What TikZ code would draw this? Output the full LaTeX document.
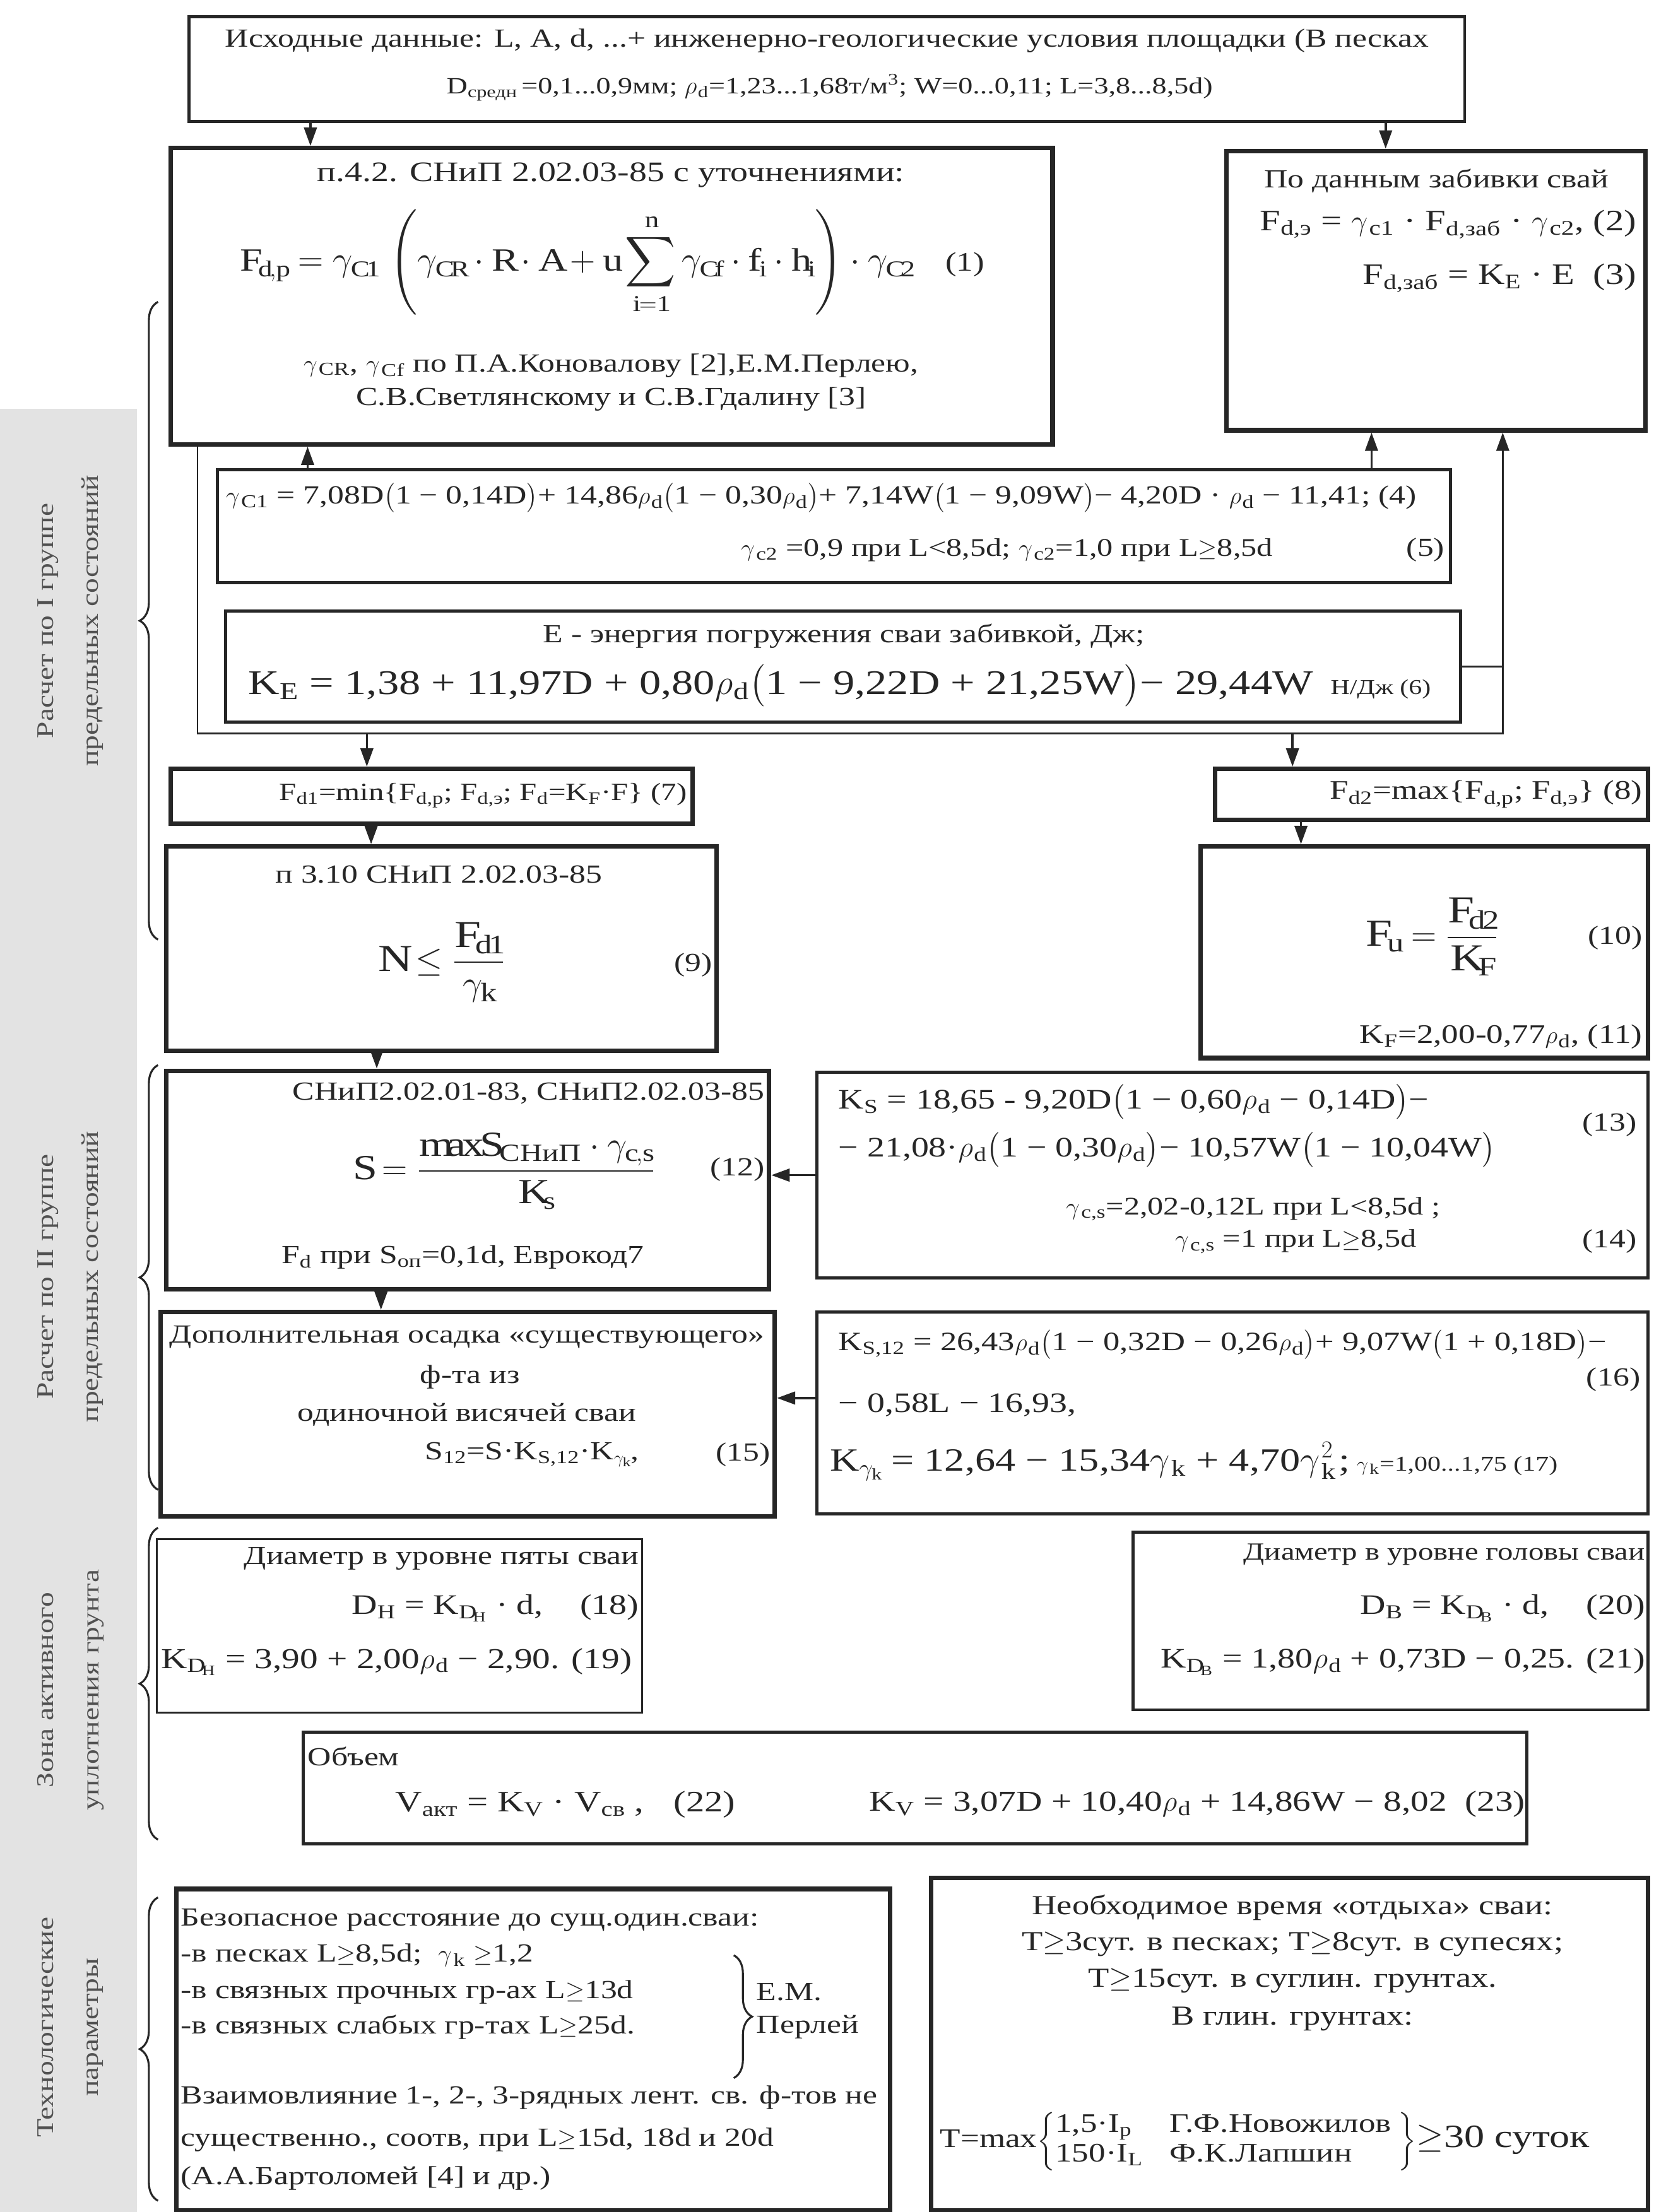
\documentclass[tikz,border=0pt]{standalone}
\usepackage{amsmath}
\usepackage{fontspec}
\setmainfont[FakeStretch=1.25]{Liberation Serif}
\usetikzlibrary{positioning, calc, arrows.meta, decorations.pathreplacing}
\definecolor{ink}{HTML}{262626}
\definecolor{strip}{HTML}{E3E3E3}
\newcommand{\subtx}[1]{\textsubscript{#1}}
\newcommand{\gm}{\ensuremath{\gamma}\kern1pt}
\newcommand{\rd}{\ensuremath{\rho}\kern0.6pt}
\newcommand{\lpar}{\ensuremath{\bigl(}}
\newcommand{\rpar}{\ensuremath{\bigr)}}
\newcommand{\gte}{\ensuremath{\geq}}
\newcommand{\fsz}[1]{\fontsize{#1}{#1}\selectfont}

\begin{document}
\begin{tikzpicture}[x=1pt, y=-1pt,
    heavybox/.style={draw=ink, line width=3.2pt, inner sep=0pt},
    midbox/.style={draw=ink, line width=2.2pt, inner sep=0pt},
    lightbox/.style={draw=ink, line width=1.3pt, inner sep=0pt},
    txt/.style={inner sep=0pt, text=ink, font=\fontsize{18.5}{22}\selectfont},
    small/.style={inner sep=0pt, text=ink, font=\fontsize{17}{20}\selectfont},
    eqn/.style={inner sep=0pt, text=ink, font=\fontsize{20}{24}\selectfont},
    bigeqn/.style={inner sep=0pt, text=ink, font=\fontsize{23}{27}\selectfont},
    feed/.style={draw=ink, line width=1.6pt, -{Triangle[length=13pt, width=9pt]}},
    grpbrace/.style={draw=ink, line width=1.4pt, decorate, decoration={brace, amplitude=13pt}},
    sidelabel/.style={rotate=90, align=center, inner sep=0pt, text=ink!80, font=\fontsize{17}{32}\selectfont}]

\useasboundingbox (0,0) rectangle (1172,1568);
\fill[strip] (0,290) rectangle (97,1568);

% input data
\node[midbox, minimum width=904, minimum height=74] (src) at (586,49) {};
\node[txt] (srcA) at (586,29) {Исходные данные: L, A, d, ...+ инженерно-геологические условия площадки (В песках};
\node[inner sep=0pt, text=ink, font=\fsz{16.5}] (srcB) at (588,62) {D\subtx{средн}\,=0,1...0,9мм; \rd\subtx{d}=1,23...1,68т/м\textsuperscript{3}; W=0...0,11; L=3,8...8,5d)};

% static calculation (1)
\node[heavybox, minimum width=625, minimum height=210] (fdp) at (433.5,210) {};
\node[inner sep=0pt, text=ink, font=\fsz{20}] (fdpT) at (433,124) {п.4.2. СНиП 2.02.03-85 с уточнениями:};
\node[bigeqn, anchor=west] (fdpF) at (170,186) {$\displaystyle \mathrm{F}_{\mathrm{d,p}} = \gamma_{\mathrm{C1}}\,\left(\gamma_{\mathrm{CR}}\cdot\mathrm{R}\cdot\mathrm{A}+\mathrm{u}\sum_{\mathrm{i=1}}^{\mathrm{n}}\gamma_{\mathrm{Cf}}\cdot\mathrm{f}_{\mathrm{i}}\cdot\mathrm{h}_{\mathrm{i}}\right)\cdot\gamma_{\mathrm{C2}}$\quad{\fsz{19}(1)}};
\node[txt] (fdpN1) at (433,259) {\gm\subtx{CR}, \gm\subtx{Cf} по П.А.Коновалову [2],Е.М.Перлею,};
\node[txt] (fdpN2) at (433,283) {С.В.Светлянскому и С.В.Гдалину [3]};

% driving data (2),(3)
\node[heavybox, minimum width=297, minimum height=198] (fde) at (1017.5,206) {};
\node[txt] (fdeT) at (1018,128) {По данным забивки свай};
\node[inner sep=0pt, text=ink, font=\fsz{21}, anchor=east] (fdeA) at (1160,159) {F\subtx{d,э} = \gm\subtx{c1} · F\subtx{d,заб} · \gm\subtx{c2}, (2)};
\node[inner sep=0pt, text=ink, font=\fsz{21}, anchor=east] (fdeB) at (1160,197) {F\subtx{d,заб} = K\subtx{E} · E \ (3)};

% coefficients (4),(5)
\node[midbox, minimum width=874, minimum height=80] (gc) at (591,373) {};
\node[anchor=west, inner sep=0pt, text=ink, font=\fsz{18.5}] (gcA) at (160,353) {\gm\subtx{C1} = 7,08D\lpar1 − 0,14D\rpar + 14,86\rd\subtx{d}\lpar1 − 0,30\rd\subtx{d}\rpar + 7,14W\lpar1 − 9,09W\rpar − 4,20D · \rd\subtx{d} − 11,41; (4)};
\node[inner sep=0pt, text=ink, font=\fsz{18}, anchor=west] (gcB) at (525,390) {\gm\subtx{c2} =0,9 при L<8,5d; \gm\subtx{c2}=1,0 при L\gte8,5d};
\node[txt, anchor=east] (gcN) at (1024,390) {(5)};

% energy coefficient (6)
\node[midbox, minimum width=875, minimum height=79] (ke) at (597.5,472.5) {};
\node[txt] (keT) at (598,451) {E - энергия погружения сваи забивкой, Дж;};
\node[anchor=west, inner sep=0pt, text=ink, font=\fsz{24.5}] (keF) at (176,486) {K\subtx{E} = 1,38 + 11,97D + 0,80\rd\subtx{d}\lpar1 − 9,22D + 21,25W\rpar − 29,44W {\fsz{15} Н/Дж (6)}};

% frame round (4)-(6)
\draw[ink, line width=1.3pt] (140,315) -- (140,520) -- (1065,520) -- (1065,472);
\coordinate (grpbl) at (140,520);

% design loads (7),(8)
\node[heavybox, minimum width=370, minimum height=39] (fd1) at (306,564.5) {};
\node[inner sep=0pt, text=ink, font=\fsz{17.5}, anchor=east] (fd1T) at (487,564) {F\subtx{d1}=min\{F\subtx{d,p}; F\subtx{d,э}; F\subtx{d}=K\subtx{F}·F\} (7)};
\node[heavybox, minimum width=307, minimum height=36] (fd2) at (1014.5,563) {};
\node[inner sep=0pt, text=ink, font=\fsz{19}, anchor=east] (fd2T) at (1164,563) {F\subtx{d2}=max\{F\subtx{d,p}; F\subtx{d,э}\} (8)};

% check (9)
\node[heavybox, minimum width=390, minimum height=145] (nn) at (313,672.5) {};
\node[txt] (nnT) at (311,620) {п 3.10 СНиП 2.02.03-85};
\node[inner sep=0pt, text=ink, font=\fsz{27}, anchor=west] (nnF) at (268,682) {$\mathrm{N}\leq\dfrac{\mathrm{F}_{\mathrm{d1}}}{\gamma_{\mathrm{k}}}$};
\node[txt, anchor=east] (nnN) at (505,684) {(9)};

% ultimate load (10),(11)
\node[heavybox, minimum width=317, minimum height=150] (fu) at (1009.5,675) {};
\node[inner sep=0pt, text=ink, font=\fsz{27}, anchor=west] (fuF) at (968,664) {$\mathrm{F}_{\mathrm{u}}=\dfrac{\mathrm{F}_{\mathrm{d2}}}{\mathrm{K}_{\mathrm{F}}}$};
\node[txt, anchor=east] (fuN) at (1164,665) {(10)};
\node[inner sep=0pt, text=ink, font=\fsz{19}, anchor=east] (fuK) at (1164,735) {K\subtx{F}=2,00-0,77\rd\subtx{d}, (11)};

% settlement (12)
\node[heavybox, minimum width=427, minimum height=155] (ss) at (331.5,836.5) {};
\node[txt, anchor=east] (ssT) at (542,775) {СНиП2.02.01-83, СНиП2.02.03-85};
\node[inner sep=0pt, text=ink, font=\fsz{25}, anchor=west] (ssF) at (250,830) {$\mathrm{S}=\dfrac{\mathrm{maxS}_{\text{СНиП}}\cdot\gamma_{\mathrm{c,s}}}{\mathrm{K}_{\mathrm{s}}}$};
\node[txt, anchor=east] (ssN) at (542,829) {(12)};
\node[txt] (ssE) at (328,891) {F\subtx{d} при S\subtx{оп}=0,1d, Еврокод7};

% settlement coefficient (13),(14)
\node[midbox, minimum width=589, minimum height=146] (ks) at (873.5,833) {};
\node[eqn, anchor=west] (ksA) at (594,781) {K\subtx{S} = 18,65 - 9,20D\lpar1 − 0,60\rd\subtx{d} − 0,14D\rpar −};
\node[eqn, anchor=west] (ksB) at (594,815) {− 21,08·\rd\subtx{d}\lpar1 − 0,30\rd\subtx{d}\rpar − 10,57W\lpar1 − 10,04W\rpar};
\node[txt, anchor=east] (ksN) at (1160,797) {(13)};
\node[inner sep=0pt, text=ink, font=\fsz{18}, anchor=east] (ksC) at (1021,857) {\gm\subtx{c,s}=2,02-0,12L при L<8,5d ;};
\node[inner sep=0pt, text=ink, font=\fsz{18}, anchor=east] (ksD) at (1004,880) {\gm\subtx{c,s} =1 при L\gte8,5d};
\node[txt, anchor=east] (ksM) at (1160,880) {(14)};

% additional settlement (15)
\node[heavybox, minimum width=435, minimum height=145] (s12) at (331.5,1002.5) {};
\node[txt] (s12A) at (331,948) {Дополнительная осадка «существующего»};
\node[txt] (s12B) at (333,976) {ф-та из};
\node[txt] (s12C) at (331,1003) {одиночной висячей сваи};
\node[txt, anchor=west] (s12D) at (301,1031) {S\subtx{12}=S·K\subtx{S,12}·K$_{\gamma_\mathrm{k}}$,};
\node[txt, anchor=east] (s12N) at (546,1031) {(15)};

% coefficients (16),(17)
\node[midbox, minimum width=589, minimum height=143] (ksd) at (873.5,1001.5) {};
\node[inner sep=0pt, text=ink, font=\fsz{18.8}, anchor=west] (ksdA) at (594,953) {K\subtx{S,12} = 26,43\rd\subtx{d}\lpar1 − 0,32D − 0,26\rd\subtx{d}\rpar + 9,07W\lpar1 + 0,18D\rpar −};
\node[txt, anchor=east] (ksdN) at (1163,978) {(16)};
\node[eqn, anchor=west] (ksdB) at (594,996) {− 0,58L − 16,93,};
\node[bigeqn, anchor=west] (ksdC) at (588,1036) {K$_{\gamma_\mathrm{k}}$ = 12,64 − 15,34\gm\subtx{k} + 4,70\gm$_\mathrm{k}^2$\,;{\fsz{15}\ \gm\subtx{k}=1,00...1,75 (17)}};

% compaction zone (18)-(23)
\node[lightbox, minimum width=344, minimum height=123] (dh) at (283,1152.5) {};
\node[txt, anchor=east] (dhT) at (453,1105) {Диаметр в уровне пяты сваи};
\node[eqn, anchor=east] (dhA) at (453,1140) {D\subtx{Н} = K$_{\mathrm{D}_\text{Н}}$ · d, \quad(18)};
\node[inner sep=0pt, text=ink, font=\fsz{20.5}, anchor=west] (dhB) at (114,1178) {K$_{\mathrm{D}_\text{Н}}$ = 3,90 + 2,00\rd\subtx{d} − 2,90. (19)};
\node[midbox, minimum width=365, minimum height=126] (db) at (985.5,1149) {};
\node[inner sep=0pt, text=ink, font=\fsz{17.5}, anchor=east] (dbT) at (1166,1102) {Диаметр в уровне головы сваи};
\node[eqn, anchor=east] (dbA) at (1166,1140) {D\subtx{В} = K$_{\mathrm{D}_\text{В}}$ · d, \quad(20)};
\node[eqn, anchor=east] (dbB) at (1166,1178) {K$_{\mathrm{D}_\text{В}}$ = 1,80\rd\subtx{d} + 0,73D − 0,25. (21)};
\node[midbox, minimum width=867, minimum height=79] (va) at (648.5,1267.5) {};
\node[txt, anchor=west] (vaT) at (218,1245) {Объем};
\node[inner sep=0pt, text=ink, font=\fsz{21}, anchor=west] (vaA) at (280,1279) {V\subtx{акт} = K\subtx{V} · V\subtx{св} ,\quad (22)};
\node[inner sep=0pt, text=ink, font=\fsz{20.5}, anchor=west] (vaB) at (616,1279) {K\subtx{V} = 3,07D + 10,40\rd\subtx{d} + 14,86W − 8,02 \ (23)};

% technology
\node[heavybox, minimum width=506, minimum height=228] (safe) at (378,1453) {};
\node[txt, anchor=west] (safe1) at (128,1361) {Безопасное расстояние до сущ.один.сваи:};
\node[txt, anchor=west] (safe2) at (128,1386) {-в песках L\gte8,5d; \ \gm\subtx{k} \gte1,2};
\node[txt, anchor=west] (safe3) at (128,1412) {-в связных прочных гр-ах L\gte13d};
\node[txt, anchor=west] (safe4) at (128,1437) {-в связных слабых гр-тах L\gte25d.};
\node[txt, anchor=west] (safe5) at (536,1412) {Е.М.};
\node[txt, anchor=west] (safe6) at (536,1437) {Перлей};
\node[txt, anchor=west] (safe7) at (128,1487) {Взаимовлияние 1-, 2-, 3-рядных лент. св. ф-тов не};
\node[txt, anchor=west] (safe8) at (128,1517) {существенно., соотв, при L\gte15d, 18d и 20d};
\node[txt, anchor=west] (safe9) at (128,1544) {(А.А.Бартоломей [4] и др.)};
\draw[grpbrace] (520,1386) -- (520,1473);

\node[heavybox, minimum width=508, minimum height=236] (rest) at (914,1449) {};
\node[inner sep=0pt, text=ink, font=\fsz{19.5}] (rest1) at (916,1352) {Необходимое время «отдыха» сваи:};
\node[inner sep=0pt, text=ink, font=\fsz{19.5}] (rest2) at (916,1378) {T\gte3сут. в песках; T\gte8сут. в супесях;};
\node[inner sep=0pt, text=ink, font=\fsz{19.5}] (rest3) at (916,1404) {T\gte15сут. в суглин. грунтах.};
\node[inner sep=0pt, text=ink, font=\fsz{19.5}] (rest4) at (916,1431) {В глин. грунтах:};
\node[inner sep=0pt, text=ink, font=\fsz{19}, anchor=west] (rest5) at (666,1518) {T=max$\left\{\begin{array}{@{}l@{\quad}l@{\;}}\text{1,5·I\textsubscript{p}} & \text{Г.Ф.Новожилов}\\[2pt] \text{150·I\textsubscript{L}} & \text{Ф.К.Лапшин}\end{array}\right\}${\fsz{23}\gte30 суток}};

% connectors
\draw[feed] (220,0 |- src.south) -- (220,0 |- fdp.north);
\draw[feed] (982,0 |- src.south) -- (982,0 |- fde.north);
\draw[feed] (218,0 |- gc.north) -- (218,0 |- fdp.south);
\draw[feed] (972,0 |- gc.north) -- (972,0 |- fde.south);
\draw[feed] (ke.east) -| (1065,0 |- fde.south);
\draw[feed] (260,0 |- grpbl) -- (260,0 |- fd1.north);
\draw[feed] (916,0 |- grpbl) -- (916,0 |- fd2.north);
\draw[feed] (263,0 |- fd1.south) -- (263,0 |- nn.north);
\draw[feed] (922,0 |- fd2.south) -- (922,0 |- fu.north);
\draw[feed] (267,0 |- nn.south) -- (267,0 |- ss.north);
\draw[feed] (ks.west) -- (ss.east |- ks.west);
\draw[feed] (270,0 |- ss.south) -- (270,0 |- s12.north);
\draw[feed] (0,991 -| ksd.west) -- (0,991 -| s12.east);

% groups
\draw[grpbrace] (112,666) -- (112,214);
\draw[grpbrace] (112,1056) -- (112,755);
\draw[grpbrace] (112,1304) -- (112,1083);
\draw[grpbrace] (112,1560) -- (112,1345);
\node[sidelabel] (side1) at (50,440) {Расчет по I группе\\предельных состояний};
\node[sidelabel] (side2) at (50,905) {Расчет по II группе\\предельных состояний};
\node[sidelabel] (side3) at (50,1198) {Зона активного\\уплотнения грунта};
\node[sidelabel] (side4) at (50,1437) {Технологические\\параметры};
\end{tikzpicture}
\end{document}
